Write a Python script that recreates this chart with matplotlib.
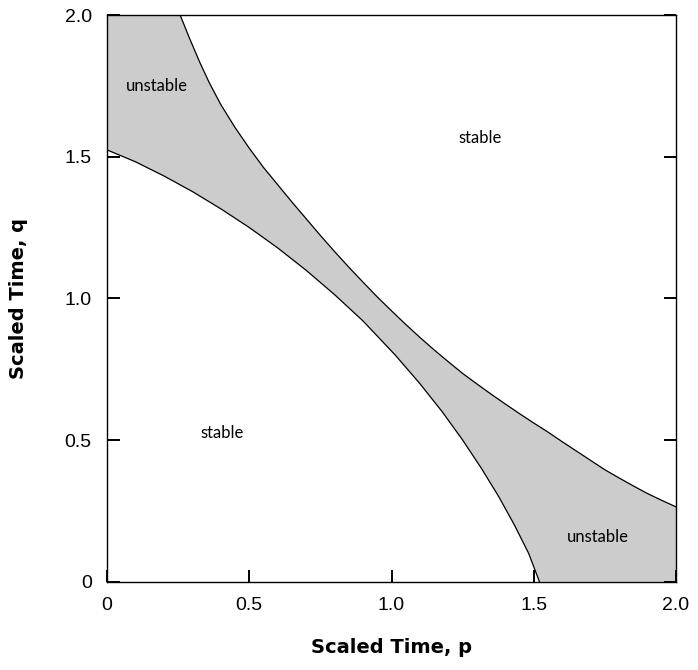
import matplotlib.pyplot as plt
import numpy as np

# upper boundary of the unstable band (p, q)
p_up = [0.257, 0.29, 0.327, 0.36, 0.40, 0.45, 0.50, 0.55, 0.60, 0.65,
        0.70, 0.75, 0.80, 0.85, 0.90, 0.95, 1.00, 1.05, 1.10, 1.15,
        1.20, 1.25, 1.30, 1.35, 1.40, 1.45, 1.50, 1.55, 1.60, 1.65,
        1.70, 1.75, 1.80, 1.85, 1.90, 1.95, 2.0]
q_up = [2.0, 1.918, 1.831, 1.760, 1.684, 1.603, 1.530, 1.462, 1.401, 1.340,
        1.281, 1.222, 1.165, 1.110, 1.057, 1.005, 0.956, 0.908, 0.862, 0.818,
        0.776, 0.735, 0.698, 0.662, 0.627, 0.593, 0.560, 0.528, 0.494, 0.461,
        0.428, 0.395, 0.366, 0.338, 0.311, 0.287, 0.264]

# lower boundary
p_lo = [0.0, 0.1, 0.2, 0.3, 0.4, 0.5, 0.6, 0.7, 0.8, 0.9,
        1.013, 1.099, 1.178, 1.25, 1.316, 1.377, 1.432, 1.482, 1.52]
q_lo = [1.524, 1.482, 1.432, 1.377, 1.316, 1.25, 1.178, 1.099, 1.013, 0.92,
        0.8, 0.7, 0.6, 0.5, 0.4, 0.3, 0.2, 0.1, 0.0]

regions = ['unstable', 'stable', 'stable', 'unstable']
reg_p = [0.176, 1.31, 0.404, 1.726]
reg_q = [1.75, 1.566, 0.525, 0.158]

ticks = [0, 0.5, 1.0, 1.5, 2.0]
ticklabels = ['0', '0.5', '1.0', '1.5', '2.0']

fig = plt.figure(figsize=(6.98, 6.70), dpi=100)
ax = fig.add_axes([0.1533, 0.1318, 0.8152, 0.8458])

# band polygon: lower curve, bottom-right corner, upper curve back, top-left corner
poly_p = p_lo + [2.0] + p_up[::-1] + [0.0]
poly_q = q_lo + [0.0] + q_up[::-1] + [2.0]
ax.fill(poly_p, poly_q, color='#cccccc', lw=0, zorder=1)
ax.plot(p_up, q_up, color='black', lw=0.9, zorder=2)
ax.plot(p_lo, q_lo, color='black', lw=0.9, zorder=2)

for txt, x, y in zip(regions, reg_p, reg_q):
    ax.text(x, y, txt, ha='center', va='center', fontsize=12, family='Lato')

ax.set_xlim(0, 2)
ax.set_ylim(0, 2)
ax.set_xticks(ticks)
ax.set_xticklabels(ticklabels)
ax.set_yticks(ticks)
ax.set_yticklabels(ticklabels)
ax.tick_params(direction='in', length=9, width=1.4, labelsize=14, pad=11,
               right=True, top=False)
for lab in ax.get_xticklabels() + ax.get_yticklabels():
    lab.set_family('Liberation Sans')
for s in ax.spines.values():
    s.set_linewidth(1.0)

ax.set_xlabel('Scaled Time, p', fontsize=14, fontweight='bold', labelpad=17)
ax.set_ylabel('Scaled Time, q', fontsize=14, fontweight='bold', labelpad=26)

fig.savefig('out.png', dpi=100)
